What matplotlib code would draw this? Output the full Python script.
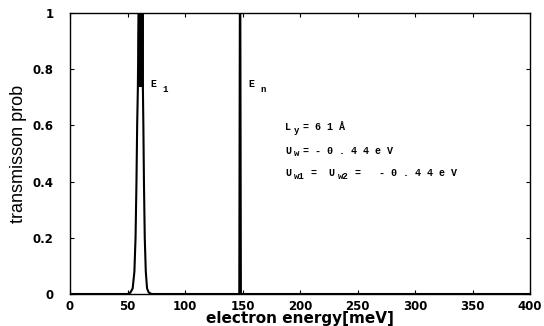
import matplotlib
matplotlib.use("Agg")
import matplotlib.pyplot as plt
from matplotlib.ticker import FuncFormatter

# Data
energy = [0, 50, 52.5, 54.5, 56.0, 57.0, 57.8, 58.4, 59.0, 59.4, 59.8,
          60.2, 60.6, 61.0, 61.4, 61.8, 62.2, 62.6, 63.0,
          63.4, 63.8, 64.3, 65.0, 65.9, 67.0, 68.5, 71,
          147.2, 147.7, 148.1, 148.6, 400]
trans = [0, 0, 0.005, 0.02, 0.08, 0.2, 0.4, 0.6, 0.73, 0.9, 1.0,
         0.74, 1.0, 0.74, 1.0, 0.74, 1.0, 0.74, 1.0,
         0.73, 0.6, 0.4, 0.2, 0.08, 0.02, 0.005, 0,
         0, 1.0, 1.0, 0, 0]

xticks = [0, 50, 100, 150, 200, 250, 300, 350, 400]
yticks = [0, 0.2, 0.4, 0.6, 0.8, 1.0]

fig = plt.figure(figsize=(5.44, 3.26), dpi=100)
ax = fig.add_axes([70/544, 1-294/326, 460/544, 281/326])
ax.plot(energy, trans, color='black', lw=1.5)
ax.set_xlim(0, 400)
ax.set_ylim(0, 1)
ax.set_xticks(xticks)
ax.set_yticks(yticks)
ax.yaxis.set_major_formatter(FuncFormatter(lambda v, p: '0' if v == 0 else ('1' if v == 1 else f'{v:.1f}')))
ax.tick_params(direction='in', length=3, width=0.8, top=True, right=True,
               labelsize=8.5, pad=4)
ax.tick_params(axis='y', pad=12)
for lab in ax.get_xticklabels() + ax.get_yticklabels():
    lab.set_fontweight('bold')
for s in ax.spines.values():
    s.set_linewidth(1.0)

ax.set_xlabel('electron energy[meV]', fontsize=11, fontweight='bold', labelpad=-1)
ax.set_ylabel('transmisson prob', fontsize=13, family=['Liberation Sans', 'DejaVu Sans'], labelpad=4)

PX = 0.72  # points per pixel at 100 dpi


def label(x, y, parts, fs=7.2, sfs=6.5, drop=3.0):
    """parts: (text, is_subscript, advance_px)"""
    cur = 0.0
    for txt, sub, adv in parts:
        ax.annotate(txt, xy=(x, y), xycoords='data',
                    xytext=(cur * PX, -drop * PX if sub else 0),
                    textcoords='offset points', ha='left', va='baseline',
                    family='Liberation Mono', fontweight='bold',
                    fontsize=sfs if sub else fs, color='black')
        cur += adv


label(69.6, 0.735, [("E", 0, 12), ("1", 1, 8)], drop=5)
label(155.0, 0.735, [("E", 0, 12), ("n", 1, 8)], drop=5)
label(187, 0.585, [("L", 0, 9), ("y", 1, 9), ("= 6 1 Å", 0, 40)])
label(187, 0.50, [("U", 0, 9), ("w", 1, 9), ("= - 0 . 4 4 e V", 0, 90)])
label(187, 0.42, [("U", 0, 9), ("w1", 1, 17), ("=  U", 0, 27), ("w2", 1, 17),
                   ("=   - 0 . 4 4 e V", 0, 100)])

fig.savefig('out.png', dpi=100)
